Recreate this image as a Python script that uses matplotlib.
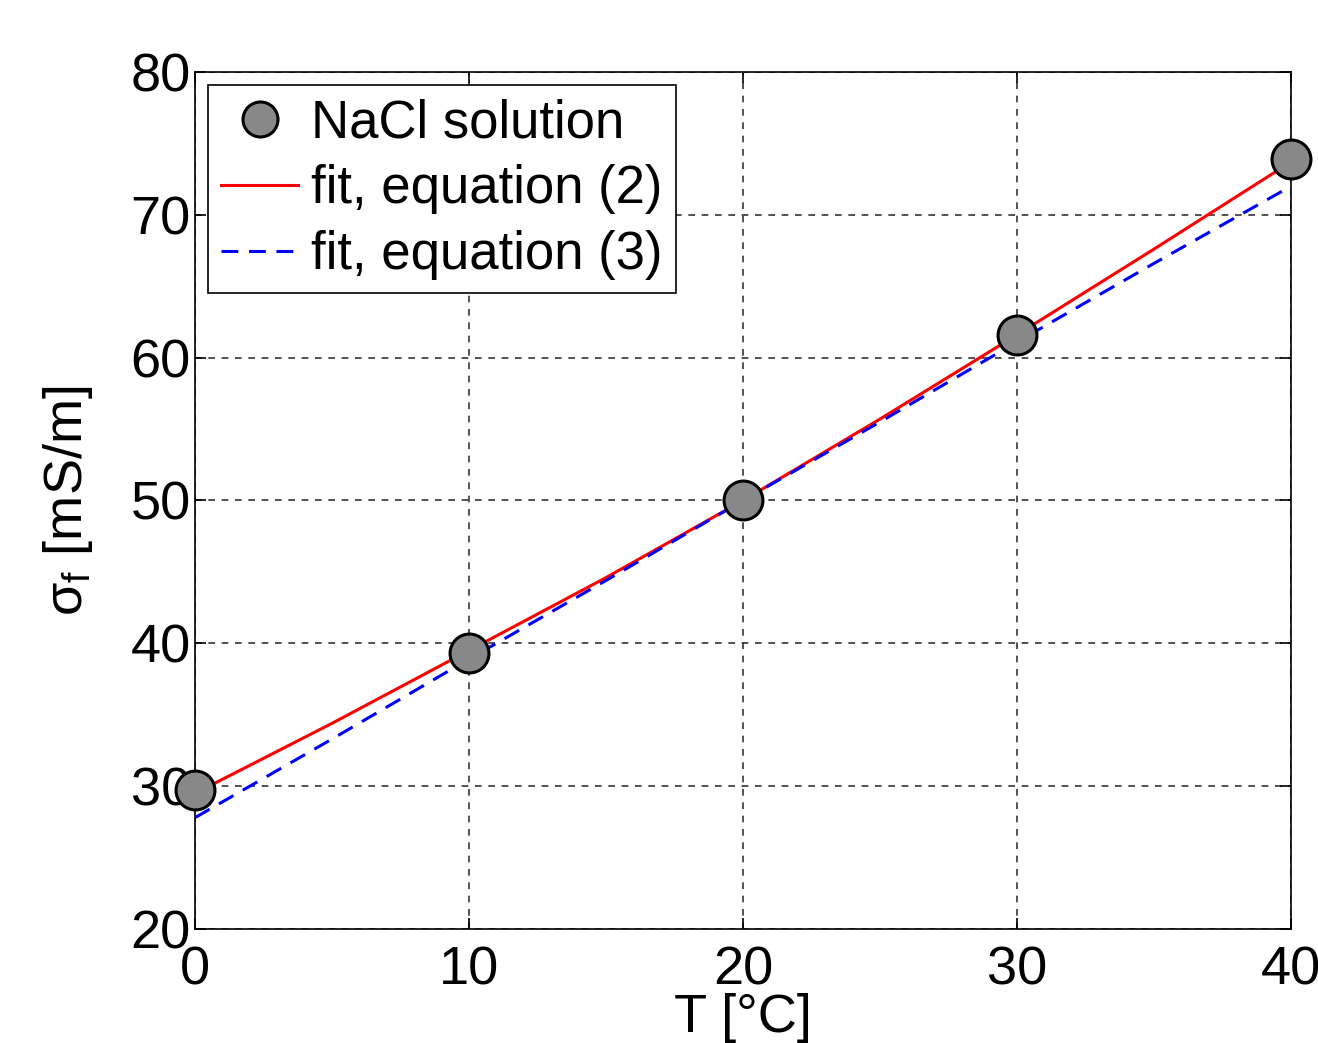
import matplotlib.pyplot as plt

# measured conductivity of NaCl solution vs temperature
temps = [0, 10, 20, 30, 40]
sigma = [29.7, 39.3, 50.0, 61.6, 73.9]

# fit curves
fit_t = [0, 5, 10, 15, 20, 25, 30, 35, 40]
fit_eq2 = [29.5, 34.4, 39.5, 44.6, 50.0, 55.7, 61.6, 67.6, 73.7]
fit_eq3 = [27.8, 33.3, 38.9, 44.4, 50.0, 55.5, 61.1, 66.6, 72.0]


def main():
    plt.rcParams['font.family'] = ['Liberation Sans', 'DejaVu Sans']
    plt.rcParams['mathtext.fontset'] = 'custom'
    plt.rcParams['mathtext.rm'] = 'Liberation Sans'

    fig = plt.figure(figsize=(13.18, 10.43), dpi=100)
    ax = fig.add_axes([0.148, 0.1093, 0.8315, 0.8217])

    ax.plot(fit_t, fit_eq2, color='red', lw=2.2, label='fit, equation (2)', zorder=3)
    ax.plot(fit_t, fit_eq3, color='blue', lw=2.2, ls=(0, (5.5, 3.5)),
            label='fit, equation (3)', zorder=3)
    ax.plot(temps, sigma, 'o', ms=28, mfc='#888888', mec='black', mew=2.2,
            label='NaCl solution', zorder=4, clip_on=False)

    ax.set_xlim(0, 40)
    ax.set_ylim(20, 80)
    ax.set_xticks([0, 10, 20, 30, 40])
    ax.set_yticks([20, 30, 40, 50, 60, 70, 80])
    ax.grid(True, color='#333333', ls=(0, (4, 4)), lw=1.2)
    ax.tick_params(direction='in', top=True, right=True, length=8, width=1.2,
                   labelsize=39, pad=3)
    ax.tick_params(axis='x', pad=12)
    for s in ax.spines.values():
        s.set_linewidth(1.2)

    ax.set_xlabel('T [°C]', fontsize=39, labelpad=-2)
    ax.set_ylabel(r'σ$_\mathregular{f}$ [mS/m]', fontsize=39, labelpad=26)

    handles, labels = ax.get_legend_handles_labels()
    order = [2, 0, 1]
    leg = ax.legend([handles[i] for i in order], [labels[i] for i in order],
                    loc='upper left', fontsize=38, fancybox=False, framealpha=1,
                    edgecolor='black', handlelength=1.45, handletextpad=0.25,
                    borderpad=0.25, labelspacing=0.3, borderaxespad=0.25,
                    markerscale=0.9)
    leg.get_frame().set_linewidth(1.2)

    fig.savefig('out.png', dpi=100)


if __name__ == '__main__':
    main()
